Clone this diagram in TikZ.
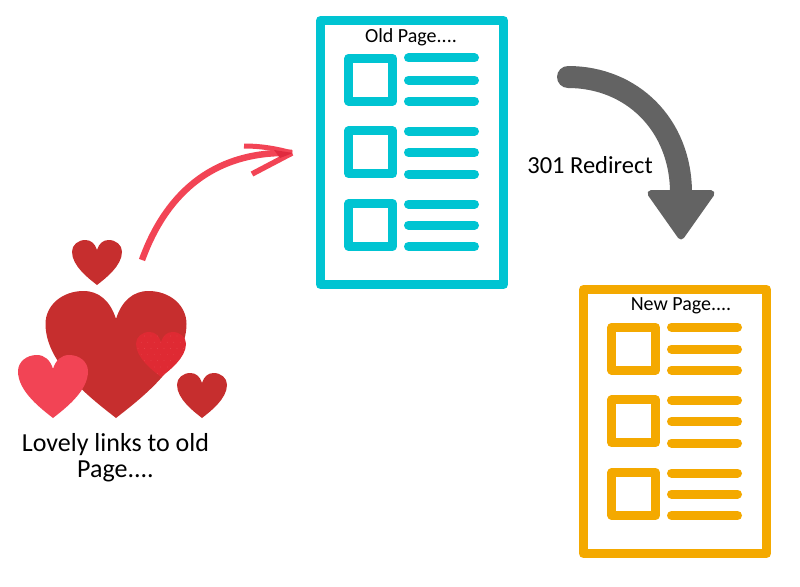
\documentclass[tikz,border=0pt]{standalone}
\usepackage{fontspec}
\setmainfont{Carlito}
\definecolor{oldc}{HTML}{00C4D2}
\definecolor{newc}{HTML}{F4A900}
\definecolor{greyc}{HTML}{636363}
\definecolor{pinkc}{HTML}{F24455}
\definecolor{darkred}{HTML}{C62E2E}
\definecolor{brightred}{HTML}{DF2A33}
\definecolor{dotc}{HTML}{E85055}
\definecolor{tipc}{HTML}{E02A3E}
\newcommand{\heartpath}[4]{% centre x, top y, width, height
  [shift={(#1,#2)},x=#3pt,y=-#4pt]
  (0,1) .. controls (-0.16,0.86) and (-0.5,0.58) .. (-0.5,0.26)
  .. controls (-0.5,0.11) and (-0.38,0) .. (-0.23,0)
  .. controls (-0.12,0) and (-0.04,0.08) .. (0,0.22)
  .. controls (0.04,0.08) and (0.12,0) .. (0.23,0)
  .. controls (0.38,0) and (0.5,0.11) .. (0.5,0.26)
  .. controls (0.5,0.58) and (0.16,0.86) .. (0,1) -- cycle}
\tikzset{
  frame/.style={draw=#1,line width=9pt,line join=round,inner sep=0pt,outer sep=0pt,
    minimum width=183pt,minimum height=264pt,fill=white},
  thumb/.style={draw=#1,line width=9pt,line join=round,inner sep=0pt,outer sep=0pt,
    minimum width=43.5pt,minimum height=43pt},
  textline/.style={draw=#1,line width=9pt,line cap=round},
  label/.style={inner sep=0pt,text=black,align=center},
  small/.style={font=\fontsize{20}{24}\selectfont},
  mid/.style={font=\fontsize{24.5}{26}\selectfont},
  large/.style={font=\fontsize{26}{26}\selectfont},
  docpage/.pic={
    \node[frame=#1] (-frame) at (412,152.5) {};
    \node[thumb=#1] (-a) at (370.7,79.7) {};
    \node[thumb=#1] (-b) at (370.7,152.3) {};
    \node[thumb=#1] (-c) at (370.7,225) {};
    \foreach \yy in {58,80,101,131,152.5,174,204,225,246.5}
      \draw[textline=#1] (408.5,\yy) -- (474.5,\yy);
  }
}
\begin{document}
\begin{tikzpicture}[x=1pt,y=-1pt]
\useasboundingbox (0,0) rectangle (800,586);
\pic (old) at (0,0) {docpage=oldc};
\pic (new) at (263,269) {docpage=newc};
\node[label,small] (oldlabel) at (411,37) {Old Page....};
\node[label,small] (newlabel) at (681,306) {New Page....};
\node[label,mid] (redirect) at (590,165) {301 Redirect};
\node[label,large] (loves) at (115.5,458) {Lovely links to old\\Page....};
% hearts
\fill[darkred] \heartpath{116}{291}{141}{127};
\fill[darkred] \heartpath{97}{240}{50}{45};
\fill[darkred] \heartpath{202}{373}{50}{45};
\fill[pinkc] \heartpath{53}{355}{70}{63};
\fill[brightred] \heartpath{161}{332}{50}{45};
\begin{scope}
  \clip \heartpath{161}{332}{50}{45};
  \foreach \i in {0,...,7} \foreach \j in {0,...,6}
    \fill[dotc] ({138+\i*6.5+mod(\j,2)*3.25},{336+\j*6.2}) circle (0.35);
\end{scope}
% red arrow
\coordinate (rs) at (142,260);
\coordinate (re) at (292,153);
\coordinate (rb1) at (244,146);
\coordinate (rb2) at (252,174);
\draw[pinkc,line width=6.5pt] (rs) .. controls (160,210) and (200,150) .. (re);
\draw[pinkc,line width=5pt] (rb1) .. controls (262,146) and (278,149) .. (re);
\draw[pinkc,line width=5.5pt] (rb2) -- (re);
\fill[tipc] (274,150) -- (293,153) -- (280,158) -- cycle;
% grey arrow
\coordinate (gs) at (568,77);
\coordinate (ge) at (681,193);
\draw[greyc,line width=22pt,line cap=round] (gs) .. controls (632,77) and (681,125) .. (ge);
\filldraw[greyc,line width=7pt,line join=round] (651,193.5) -- (711,193.5) -- (681,236) -- cycle;
\end{tikzpicture}
\end{document}
